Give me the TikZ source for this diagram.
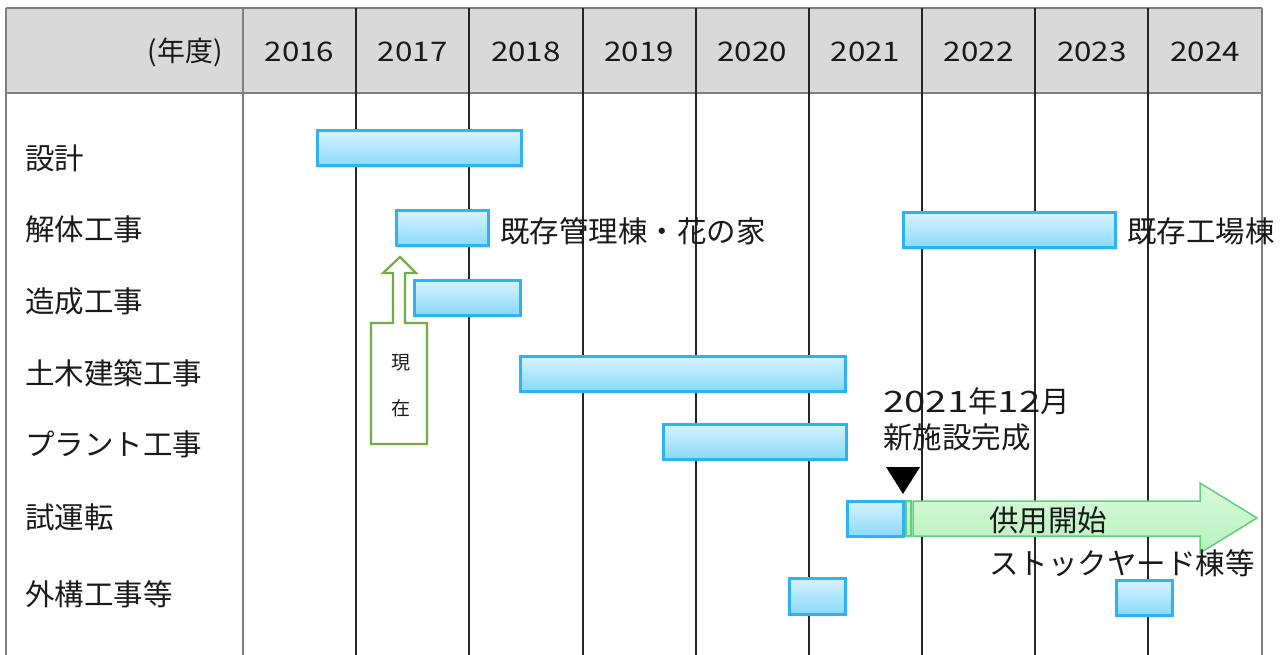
\documentclass[tikz,border=0pt]{standalone}
\usepackage{fontspec}
\setmainfont{Noto Sans CJK JP}
\newfontfamily\numfont[FakeStretch=1.16]{Noto Sans CJK JP}
\newfontfamily\widenum[FakeStretch=1.3]{Noto Sans CJK JP}
\usetikzlibrary{shadows}
\definecolor{hdrgray}{HTML}{D9D9D9}
\definecolor{outergray}{HTML}{7F7F7F}
\definecolor{barline}{HTML}{2CB3F7}
\definecolor{bartop}{HTML}{D6F3FD}
\definecolor{barbot}{HTML}{8ADAFB}
\definecolor{nowgreen}{HTML}{70AD47}
\definecolor{arrline}{HTML}{5FCF7B}
\definecolor{arrtop}{HTML}{DAFBDC}
\definecolor{arrbot}{HTML}{B6F0BC}
\definecolor{txt}{HTML}{1A1A1A}
\newcommand\ganttbox[5]{\node[ganttbar, minimum width={(#4-#2)*1pt}, minimum height={(#5-#3)*1pt}] (#1) at ({(#2+#4)/2},{(#3+#5)/2}) {};}
\begin{document}
\begin{tikzpicture}[x=1pt,y=-1pt,
  outer/.style={draw=outergray, line width=1.2pt},
  colline/.style={draw=black!85, line width=1.4pt},
  ganttbar/.style={draw=barline, line width=3pt, top color=bartop, bottom color=barbot, inner sep=0pt, outer sep=0pt,
     drop shadow={opacity=0.25, shadow xshift=1.5pt, shadow yshift=-2pt}},
  yeartxt/.style={font=\numfont\fontsize{27}{29}\selectfont, text=txt, inner sep=0pt},
  rowlabel/.style={font=\fontsize{29.5}{31}\selectfont, text=txt, anchor=west, inner sep=0pt},
  note/.style={font=\fontsize{29.5}{31}\selectfont, text=txt, anchor=west, inner sep=0pt}]
\useasboundingbox (0,0) rectangle (1288,655);
% header
\fill[hdrgray] (6,8) rectangle (1262,93);
\draw[outer] (6,8) -- (1262,8);
\draw[outer] (6,93) -- (1262,93);
\draw[outer] (6,8) -- (6,655);
\draw[outer] (243,8) -- (243,655);
\draw[outer] (1262,8) -- (1262,655);
\foreach \x in {356,469,583,696,809,922,1035,1148} \draw[colline] (\x,8) -- (\x,655);
\node[text=txt, inner sep=0pt, font=\fontsize{28}{30}\selectfont, anchor=east] (nendo) at (223,52) {(年度)};
\foreach \yr [count=\i from 0] in {2016,2017,2018,2019,2020,2021,2022,2023,2024}
  \node[yeartxt] (y\yr) at ({299.5+113.2*\i},52) {\yr};
% row labels
\node[rowlabel] (l1) at (25,158) {設計};
\node[rowlabel] (l2) at (25,229) {解体工事};
\node[rowlabel] (l3) at (25,301) {造成工事};
\node[rowlabel] (l4) at (25,373) {土木建築工事};
\node[rowlabel] (l5) at (25,444) {プラント工事};
\node[rowlabel] (l6) at (25,517) {試運転};
\node[rowlabel] (l7) at (25,594) {外構工事等};
% bars
\ganttbox{b1}{317}{131}{521}{166}
\ganttbox{b2}{396}{211}{488}{246}
\ganttbox{b3}{903}{213}{1115}{248}
\ganttbox{b4}{414}{280}{520}{315}
\ganttbox{b5}{520}{356}{845}{391}
\ganttbox{b6}{663}{424}{846}{459}
\ganttbox{b7}{847}{501}{903}{536}
\ganttbox{b8}{789}{578}{845}{614}
\ganttbox{b9}{1116}{580}{1172}{615}
% notes
\node[note] (n1) at (500,231) {既存管理棟・花の家};
\node[note] (n2) at (1127,231) {既存工場棟};
% now arrow
\draw[nowgreen, line width=2.2pt, fill=white, line join=miter]
  (371,444) -- (371,323) -- (393,323) -- (393,273) -- (383,273) -- (400,257)
  -- (416,273) -- (405,273) -- (405,323) -- (427,323) -- (427,444) -- cycle;
\node[font=\fontsize{19}{20}\selectfont, text=txt, inner sep=0pt] (now1) at (401,363) {現};
\node[font=\fontsize{19}{20}\selectfont, text=txt, inner sep=0pt] (now2) at (401,408) {在};
% completion
\node[note] (c1) at (883,401) {{\widenum 2021}年{\widenum 12}月};
\node[note] (c2) at (883,437) {新施設完成};
\fill[black] (886,467) -- (920,467) -- (903,494) -- cycle;
% in-service arrow
\path[draw=arrline, line width=1.5pt, top color=arrtop, bottom color=arrbot] (906,501) rectangle (911,536);
\path[draw=arrline, line width=1.5pt, top color=arrtop, bottom color=arrbot, line join=miter]
  (913,501) -- (1200,501) -- (1200,483) -- (1257,518) -- (1200,553) -- (1200,536) -- (913,536) -- cycle;
\node[note] (s1) at (989,520) {供用開始};
\node[note] (s2) at (989,563) {ストックヤード棟等};
\end{tikzpicture}
\end{document}
